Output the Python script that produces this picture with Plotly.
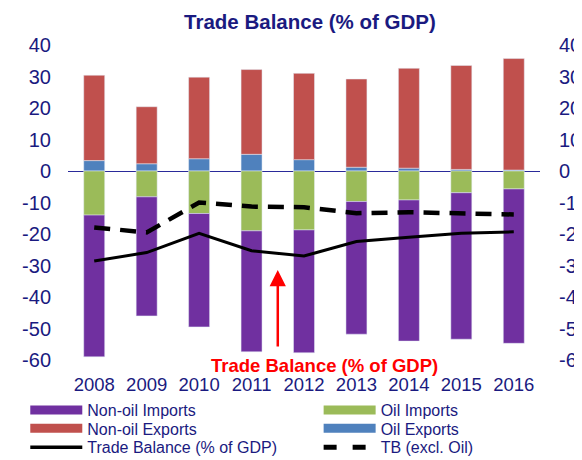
import plotly.graph_objects as go

# data (% of GDP)
years = [2008, 2009, 2010, 2011, 2012, 2013, 2014, 2015, 2016]
oil_exports = [3.3, 2.3, 3.9, 5.3, 3.6, 1.2, 0.9, 0.5, 0.3]
non_oil_exports = [27.1, 18.1, 25.9, 26.9, 27.4, 28.0, 31.7, 33.0, 35.4]
oil_imports = [-14.0, -8.2, -13.5, -19.0, -18.7, -9.7, -9.2, -6.9, -5.7]
non_oil_imports = [-45.0, -37.8, -36.0, -38.4, -39.0, -42.1, -44.8, -46.5, -49.0]
trade_balance = [-28.6, -25.9, -19.8, -25.3, -27.0, -22.4, -21.0, -19.8, -19.3]
tb_excl_oil = [-17.9, -19.5, -10.0, -11.3, -11.5, -13.4, -13.1, -13.4, -13.8]

y_ticks = [40, 30, 20, 10, 0, -10, -20, -30, -40, -50, -60]
y_ticklabels = [str(v) for v in y_ticks]
x_ticklabels = [str(y) for y in years]

navy = "#1a1a80"
font = "Liberation Sans, Arial, sans-serif"

c_purple = "#7030A0"
c_green = "#9BBB59"
c_red = "#C0504D"
c_blue = "#4F81BD"

fig = go.Figure()

# bars (stacked, positive and negative separately)
for vals, col in [(oil_exports, c_blue), (non_oil_exports, c_red),
                  (oil_imports, c_green), (non_oil_imports, c_purple)]:
    fig.add_trace(go.Bar(x=years, y=vals, marker_color=col, width=0.4,
                         showlegend=False))

fig.add_trace(go.Scatter(x=years, y=trade_balance, mode="lines",
                         line=dict(color="black", width=3), showlegend=False))
fig.add_trace(go.Scatter(x=years, y=tb_excl_oil, mode="lines",
                         line=dict(color="black", width=4.5, dash="16px,10px"),
                         showlegend=False))

# legend: 2 columns x 3 rows, one small legend per entry
legend_items = [
    ("Non-oil Imports", c_purple, 9, "solid"),
    ("Oil Imports", c_green, 9, "solid"),
    ("Non-oil Exports", c_red, 9, "solid"),
    ("Oil Exports", c_blue, 9, "solid"),
    ("Trade Balance (% of GDP)", "black", 3.5, "solid"),
    ("TB (excl. Oil)", "black", 5, "13px,16px"),
]
col_x = [-0.0905, 0.531]
row_y = [-0.159, -0.217, -0.277]
legends = {}
for i, (name, col, w, d) in enumerate(legend_items):
    key = "legend" if i == 0 else "legend%d" % (i + 1)
    fig.add_trace(go.Scatter(x=[None], y=[None], mode="lines", name=name,
                             line=dict(color=col, width=w, dash=d),
                             yaxis="y2", legend=key))
    legends[key] = dict(x=col_x[i % 2], y=row_y[i // 2], xanchor="left",
                        yanchor="middle", itemwidth=52,
                        font=dict(size=16, color=navy),
                        bgcolor="rgba(0,0,0,0)")

# red arrow + label
fig.add_annotation(x=2011.5, y=-31.4, ax=2011.5, ay=-56.2, axref="x", ayref="y",
                   xref="x", yref="y", text="", showarrow=True,
                   arrowhead=2, arrowsize=1.3, arrowwidth=2.5, arrowcolor="#FF0000")
fig.add_annotation(x=0.543, y=-0.016, xref="paper", yref="paper",
                   text="<b>Trade Balance (% of GDP)</b>", showarrow=False,
                   font=dict(family=font, size=18.5, color="#FF0000"),
                   xanchor="center", yanchor="middle")

# page body adds an 8px margin, so the figure is 8px smaller on each axis
fig.update_layout(
    width=574, height=452,
    margin=dict(l=60, r=42, t=37, b=100, autoexpand=False),
    paper_bgcolor="white", plot_bgcolor="white",
    barmode="relative",
    font=dict(family=font, color=navy),
    title=dict(text="<b>Trade Balance (% of GDP)</b>", x=0.526, xanchor="center",
               y=0.970, yanchor="middle", font=dict(size=20.5, color=navy)),
    xaxis=dict(range=[2007.5, 2016.5], tickvals=years, ticktext=x_ticklabels,
               showgrid=False, zeroline=False, showline=False,
               ticks="outside", ticklen=8, tickcolor="rgba(0,0,0,0)",
               tickfont=dict(size=18.5, color=navy)),
    yaxis=dict(range=[-60, 40], tickvals=y_ticks, ticktext=y_ticklabels,
               showgrid=False, zeroline=True, zerolinecolor="#2a2a9a",
               zerolinewidth=1, showline=False,
               ticks="outside", ticklen=12, tickcolor="rgba(0,0,0,0)",
               tickfont=dict(size=20, color=navy)),
    yaxis2=dict(range=[-60, 40], tickvals=y_ticks, ticktext=y_ticklabels,
                overlaying="y", side="right", showgrid=False, zeroline=False,
                showline=False, ticks="outside", ticklen=14,
                tickcolor="rgba(0,0,0,0)", tickfont=dict(size=20, color=navy)),
    **legends,
)

fig.write_html("out.html")
